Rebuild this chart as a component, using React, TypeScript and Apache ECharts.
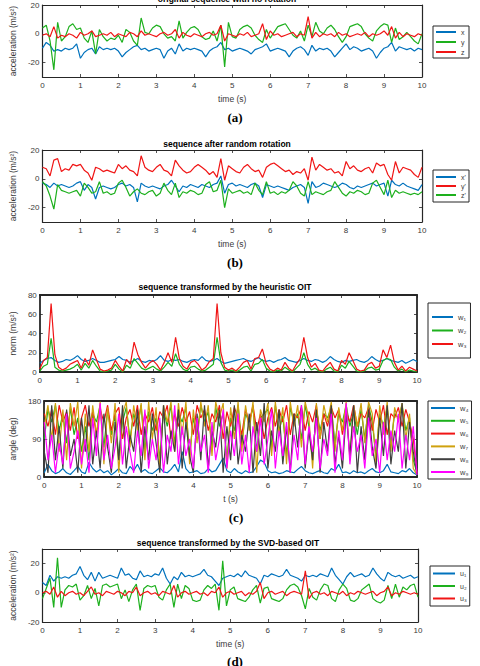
import React, { useEffect, useRef } from 'react';
import * as echarts from 'echarts';

const TIME = [
  0, 0.1, 0.2, 0.3, 0.4, 0.5, 0.6, 0.7, 0.8, 0.9,
  1, 1.1, 1.2, 1.3, 1.4, 1.5, 1.6, 1.7, 1.8, 1.9,
  2, 2.1, 2.2, 2.3, 2.4, 2.5, 2.6, 2.7, 2.8, 2.9,
  3, 3.1, 3.2, 3.3, 3.4, 3.5, 3.6, 3.7, 3.8, 3.9,
  4, 4.1, 4.2, 4.3, 4.4, 4.5, 4.6, 4.7, 4.8, 4.9,
  5, 5.1, 5.2, 5.3, 5.4, 5.5, 5.6, 5.7, 5.8, 5.9,
  6, 6.1, 6.2, 6.3, 6.4, 6.5, 6.6, 6.7, 6.8, 6.9,
  7, 7.1, 7.2, 7.3, 7.4, 7.5, 7.6, 7.7, 7.8, 7.9,
  8, 8.1, 8.2, 8.3, 8.4, 8.5, 8.6, 8.7, 8.8, 8.9,
  9, 9.1, 9.2, 9.3, 9.4, 9.5, 9.6, 9.7, 9.8, 9.9,
  10,
];

// (a) original sequence
const A_X = [
  -10, -6, -8, -12, -11, -12, -10, -11, -10, -7,
  -17, -13, -11, -10, -14, -9, -11, -10, -11, -10,
  -12, -16, -13, -11, -9, -8, -11, -10, -12, -11,
  -10, -11, -17, -12, -10, -14, -7, -12, -10, -11,
  -10, -11, -12, -16, -12, -10, -9, -6, -11, -10,
  -12, -11, -10, -11, -12, -14, -11, -10, -9, -7,
  -12, -11, -10, -11, -12, -16, -12, -10, -9, -11,
  -15, -8, -12, -10, -11, -10, -12, -16, -13, -10,
  -7, -11, -9, -10, -12, -11, -10, -12, -17, -13,
  -10, -9, -6, -12, -9, -10, -11, -10, -12, -10,
  -11,
];
const A_Y = [
  4, 6, -5, -25, 8, -5, -2, 5, 7, 3,
  4, -3, -6, 2, -14, 3, -2, -5, -3, -4,
  -1, -6, 3, 1, -5, -8, 11, 1, 0, 4,
  6, 5, 0, -3, -2, -5, 9, -3, 1, 4,
  5, 3, -2, -4, -3, 2, -5, 6, -23, 8,
  -2, -3, 3, 5, 6, 4, -1, -4, -6, 3,
  -3, 1, 5, 6, 7, 3, -1, -3, 2, -5,
  6, -2, 8, 2, 0, 4, 6, 3, -2, -6,
  -2, 5, 6, 7, 5, 0, -3, -5, 2, 5,
  7, 6, -6, 4, -4, -2, 1, -2, -5, -7,
  0,
];
const A_Z = [
  -1, 0, -2, 5, -3, -1, -2, 0, -1, -3,
  1, -1, 0, 2, -2, -1, 0, -1, 1, -2,
  0, -1, -2, 1, 0, -2, 2, -1, 0, -1,
  -2, 0, 1, -1, 0, 3, -3, 1, -1, -2,
  0, -1, -2, 0, 1, -1, 0, 6, -5, 0,
  -1, -2, 0, -1, 1, -2, -1, 0, 7, -4,
  2, -1, 0, -2, -1, 0, 1, -2, 0, -1,
  12, -3, 1, -2, 0, -1, 0, -2, 1, -1,
  0, -2, -1, 0, -1, 1, -2, 0, -1, 0,
  2, -1, 5, -3, 1, -2, 0, -1, -2, 0,
  -1,
];

// (b) after random rotation
const B_X = [
  -3, -4, -6, -3, -5, -4, -5, -6, -5, -3,
  -2, -8, -4, -6, -14, -6, -5, -6, -7, -6,
  -4, -3, -5, -4, -6, -16, -3, -5, -6, -5,
  -6, -7, -5, -4, -1, -5, -9, -5, -6, -4,
  -5, -6, -4, -5, -6, -4, -3, 2, -10, -4,
  -3, -5, -4, -5, -6, -4, -3, -5, -13, -4,
  -5, -6, -5, -6, -7, -8, -6, -5, -4, -6,
  -17, -2, -6, -5, -3, -4, -5, -6, -5, -3,
  -4, -6, -7, -5, -6, -5, -4, -3, -5, -4,
  -3, -12, -1, -4, -5, -3, -5, -6, -7, -8,
  -4,
];
const B_Y = [
  8, 7, 2, 13, 14, 5, 7, 6, 10, 9,
  10, 6, 4, -1, 8, 7, 5, 6, 5, 4,
  10, 7, 9, 6, 5, 2, 16, 8, 6, 5,
  8, 10, 6, 5, 2, 13, 9, 6, 4, 5,
  8, 10, 8, 6, 3, 5, 1, 14, -1, 9,
  7, 5, 4, 8, 10, 7, 5, 6, 1, 8,
  10, 11, 9, 7, 5, 6, 3, 5, 4, 7,
  -1, 15, 6, 10, 8, 6, 7, 4, 5, 2,
  12, 7, 9, 6, 5, 7, 8, 4, 11, 9,
  10, 3, -1, 12, 4, 8, 7, 6, 3, 1,
  8,
];
const B_Z = [
  -2, -5, -12, -21, -4, -8, -9, -10, -9, -8,
  -12, -3, -6, -10, -9, -2, -10, -9, -11, -10,
  -3, -1, -6, -12, -9, -7, -10, -11, -9, -8,
  -12, -10, -3, -8, -11, -3, -13, -9, -10, -8,
  -9, -11, -10, -4, -2, -9, -8, -1, -20, -7,
  -10, -9, -8, -10, -9, -11, -3, -8, -11, -2,
  -10, -9, -11, -9, -10, -8, -2, -5, -10, -12,
  -2, -11, -9, -10, -11, -9, -8, -2, -6, -10,
  -12, -9, -10, -8, -9, -11, -10, -3, -1, -6,
  -11, -1, -13, -8, -10, -9, -10, -11, -10, -11,
  -9,
];

// (c) heuristic OIT: norms
const C_W1 = [
  9, 12, 14, 15, 12, 10, 11, 13, 12, 14,
  17, 13, 11, 12, 14, 12, 10, 10, 11, 12,
  13, 16, 13, 12, 10, 12, 14, 11, 10, 12,
  11, 13, 17, 12, 11, 13, 12, 13, 11, 10,
  12, 13, 12, 16, 12, 11, 12, 14, 11, 9,
  10, 11, 12, 13, 14, 12, 11, 13, 15, 12,
  11, 12, 10, 12, 13, 15, 12, 11, 10, 12,
  14, 12, 11, 13, 12, 10, 12, 16, 13, 11,
  10, 12, 11, 12, 13, 11, 10, 12, 16, 13,
  11, 12, 14, 12, 11, 10, 12, 9, 11, 13,
  11,
];
const C_W2 = [
  1, 6, 8, 35, 5, 2, 1, 2, 3, 5,
  8, 2, 9, 4, 12, 6, 1, 0, 1, 2,
  8, 3, 0, 7, 4, 14, 9, 4, 2, 4,
  6, 3, 1, 5, 10, 6, 19, 8, 3, 1,
  5, 6, 3, 1, 2, 5, 8, 36, 10, 2,
  1, 2, 0, 2, 5, 6, 1, 8, 9, 13,
  4, 1, 0, 2, 1, 5, 2, 0, 4, 8,
  20, 8, 2, 4, 1, 0, 3, 5, 1, 0,
  7, 4, 11, 6, 1, 0, 1, 4, 5, 2,
  3, 12, 14, 13, 5, 1, 3, 0, 2, 1,
  0,
];
const C_W3 = [
  3, 12, 15, 71, 18, 5, 2, 4, 8, 10,
  12, 4, 14, 7, 23, 13, 3, 1, 2, 4,
  12, 6, 1, 13, 8, 31, 18, 10, 4, 9,
  12, 8, 2, 10, 20, 10, 36, 14, 6, 3,
  10, 12, 8, 2, 5, 11, 14, 71, 20, 5,
  2, 4, 1, 5, 10, 12, 3, 14, 15, 24,
  9, 3, 1, 4, 2, 10, 4, 1, 8, 14,
  36, 15, 5, 9, 2, 1, 6, 10, 3, 1,
  12, 8, 20, 12, 3, 1, 2, 8, 10, 4,
  6, 23, 15, 28, 10, 2, 6, 1, 5, 3,
  1,
];

// (c) heuristic OIT: angles
const C_W4 = [
  10, 30, 15, 8, 12, 20, 10, 6, 15, 25,
  12, 8, 35, 20, 12, 18, 10, 15, 5, 12,
  20, 10, 8, 25, 15, 30, 12, 18, 10, 8,
  15, 22, 12, 10, 18, 30, 12, 60, 20, 10,
  12, 15, 8, 10, 20, 12, 15, 30, 45, 15,
  10, 20, 12, 8, 15, 10, 12, 25, 40, 35,
  15, 10, 12, 8, 10, 15, 12, 10, 18, 25,
  15, 10, 8, 12, 15, 10, 8, 20, 15, 30,
  10, 12, 8, 15, 10, 12, 8, 15, 20, 12,
  10, 15, 30, 12, 10, 8, 15, 12, 20, 10,
  5,
];
const C_W5 = [
  90, 160, 130, 170, 110, 150, 80, 165, 100, 140,
  60, 120, 40, 150, 130, 170, 70, 160, 100, 145,
  50, 130, 165, 90, 150, 120, 170, 60, 155, 110,
  140, 40, 160, 120, 170, 80, 150, 130, 165, 50,
  140, 100, 170, 130, 155, 70, 165, 120, 150, 40,
  140, 110, 170, 80, 150, 130, 165, 60, 140, 150,
  160, 70, 170, 110, 145, 50, 165, 130, 150, 90,
  170, 120, 40, 160, 110, 150, 140, 165, 80, 150,
  130, 170, 120, 155, 100, 160, 90, 170, 130, 50,
  150, 120, 165, 80, 150, 140, 170, 110, 140, 40,
  10,
];
const C_W6 = [
  150, 120, 160, 100, 170, 130, 155, 110, 165, 90,
  140, 170, 120, 155, 100, 160, 130, 170, 110, 150,
  165, 90, 140, 160, 120, 170, 100, 150, 130, 165,
  110, 155, 140, 170, 90, 150, 120, 165, 130, 155,
  100, 170, 140, 160, 110, 150, 130, 170, 90, 155,
  120, 165, 140, 100, 160, 130, 170, 110, 150, 90,
  140, 165, 120, 160, 130, 170, 100, 150, 140, 165,
  110, 155, 130, 170, 90, 150, 120, 165, 140, 160,
  100, 155, 130, 170, 120, 150, 140, 165, 110, 160,
  130, 170, 100, 150, 140, 165, 120, 160, 130, 90,
  10,
];
const C_W7 = [
  120, 170, 90, 175, 60, 160, 40, 175, 120, 178,
  20, 150, 60, 170, 100, 178, 30, 165, 80, 175,
  10, 150, 178, 70, 170, 110, 175, 40, 178, 90,
  165, 20, 170, 130, 178, 60, 175, 100, 178, 30,
  160, 80, 178, 120, 170, 50, 178, 140, 175, 20,
  165, 90, 178, 60, 170, 110, 178, 10, 160, 130,
  175, 50, 178, 100, 165, 30, 178, 120, 170, 70,
  178, 140, 20, 175, 90, 170, 130, 178, 60, 165,
  110, 178, 40, 170, 120, 175, 80, 178, 150, 30,
  170, 100, 178, 60, 165, 130, 175, 90, 150, 20,
  5,
];
const C_W8 = [
  60, 10, 170, 40, 120, 20, 160, 50, 90, 10,
  140, 60, 170, 30, 110, 20, 150, 70, 10, 130,
  40, 170, 20, 100, 60, 160, 10, 120, 40, 150,
  80, 10, 170, 30, 110, 60, 160, 20, 130, 50,
  10, 150, 40, 170, 20, 110, 70, 160, 10, 120,
  40, 170, 30, 100, 60, 150, 10, 130, 50, 175,
  20, 110, 60, 160, 30, 120, 10, 150, 70, 170,
  20, 110, 40, 160, 10, 130, 60, 170, 30, 100,
  20, 150, 50, 170, 10, 120, 40, 160, 70, 20,
  140, 50, 170, 30, 110, 60, 175, 20, 130, 60,
  5,
];
const C_W9 = [
  130, 40, 100, 10, 80, 30, 150, 20, 60, 110,
  30, 90, 10, 140, 50, 175, 40, 100, 20, 70,
  150, 30, 120, 60, 10, 110, 50, 160, 20, 90,
  40, 140, 10, 100, 60, 170, 30, 120, 50, 90,
  20, 140, 60, 100, 10, 130, 40, 90, 160, 20,
  110, 50, 150, 30, 100, 10, 120, 60, 140, 30,
  90, 160, 20, 110, 50, 130, 10, 100, 40, 170,
  30, 120, 60, 140, 20, 90, 50, 150, 10, 110,
  40, 175, 30, 120, 60, 100, 20, 140, 50, 90,
  10, 130, 40, 110, 60, 150, 20, 100, 40, 120,
  5,
];

// (d) SVD-based OIT
const D_U1 = [
  7, 5, 12, 8, 11, 10, 11, 10, 12, 13,
  18, 12, 9, 14, 8, 14, 10, 11, 12, 11,
  10, 17, 12, 13, 10, 9, 15, 11, 12, 11,
  13, 12, 17, 10, 6, 11, 9, 14, 11, 12,
  11, 12, 13, 16, 12, 11, 8, 5, 10, 11,
  12, 11, 13, 11, 15, 12, 11, 10, 6, 12,
  11, 13, 12, 11, 12, 16, 12, 11, 10, 8,
  12, 11, 12, 11, 13, 12, 11, 17, 12, 9,
  6, 11, 14, 11, 12, 13, 11, 12, 17, 13,
  10, 8, 14, 12, 11, 12, 10, 11, 12, 10,
  11,
];
const D_U2 = [
  -4, 3, 10, -10, 24, -10, 2, 5, 4, 6,
  -5, -2, 5, -4, 3, -9, 5, 6, 4, 5,
  6, -4, 2, -6, 2, 6, -12, 3, 5, 4,
  5, -3, -5, 2, 6, -10, 6, -4, 5, 3,
  -5, -6, -5, 2, 5, 3, 6, -12, 22, -9,
  2, 4, -4, -5, -6, -3, 2, 5, -7, 3,
  4, -4, -5, -6, -4, 2, 5, 6, 4, -2,
  -11, 3, -3, -5, 2, 6, 5, -4, -6, 2,
  6, 3, -5, -6, -4, 2, 4, 6, -4, -6,
  -7, -5, 5, -4, 6, -3, 4, 2, 5, 6,
  -3,
];
const D_U3 = [
  0, 1, -1, 4, -3, 1, -2, 0, 1, -1,
  0, -2, 1, 4, -1, 0, -2, 1, 0, -1,
  1, 0, -2, 1, 0, 4, -2, 0, 1, -1,
  0, -2, 1, 0, -1, 5, -3, 0, 1, -1,
  0, 1, -1, 0, -2, 1, 0, 4, -3, 0,
  1, -1, 0, 1, -2, 0, -1, 1, 7, -4,
  0, 1, -1, 0, 1, -2, 0, 1, 0, -1,
  15, -4, 0, 1, -1, 0, -2, 1, 0, -1,
  1, -2, 0, -1, 1, 0, -1, 0, 1, -2,
  0, 1, 4, -2, 0, -1, 1, 0, -1, 0,
  -1,
];

const TITLES = [
  'original sequence with no rotation',
  'sequence after random rotation',
  'sequence transformed by the heuristic OIT',
  'sequence transformed by the SVD-based OIT',
];
const PANEL_LABELS = ['(a)', '(b)', '(c)', '(d)'];

const BLUE = '#0072BD';
const GREEN = '#1DB01D';
const RED = '#F01515';
const GOLD = '#CFA10E';
const DARK = '#3F3F3F';
const MAGENTA = '#FF00FF';
const AXIS = '#262626';
const LABEL = '#3a3a3a';
const FONT = '"Liberation Sans", Arial, Helvetica, sans-serif';

type Panel = {
  grid: { left: number; top: number; width: number; height: number };
  yMin: number; yMax: number; yInt: number; yTicks: number[];
  yName: string; yNameGap: number; xName: string; border: number;
  series: [string, number[], string][];
  legend: { left: number; top: number; padding: number[]; gap: number; lh: number; tw: number; iw: number; fs: number };
};

const PANELS: Panel[] = [
  {
    grid: { left: 32, top: 5, width: 390, height: 72 },
    yMin: -30, yMax: 20, yInt: 10, yTicks: [-20, 0, 20],
    yName: 'acceleration (m/s²)', yNameGap: 15, xName: 'time (s)', border: 1.2,
    series: [['x', A_X, BLUE], ['y', A_Y, GREEN], ['z', A_Z, RED]],
    legend: { left: 433, top: 26, padding: [2, 3, 2, 3], gap: 2, lh: 8, tw: 5, iw: 20, fs: 7 },
  },
  {
    grid: { left: 32, top: 150, width: 390, height: 72 },
    yMin: -30, yMax: 20, yInt: 10, yTicks: [-20, 0, 20],
    yName: 'acceleration (m/s²)', yNameGap: 15, xName: 'time (s)', border: 1.2,
    series: [["x'", B_X, BLUE], ["y'", B_Y, RED], ["z'", B_Z, GREEN]],
    legend: { left: 433, top: 170, padding: [3, 3, 3, 3], gap: 1, lh: 8, tw: 5, iw: 20, fs: 7 },
  },
  {
    grid: { left: 32, top: 295, width: 385, height: 77 },
    yMin: 0, yMax: 80, yInt: 20, yTicks: [0, 20, 40, 60, 80],
    yName: 'norm (m/s²)', yNameGap: 14, xName: '', border: 1.8,
    series: [['w₁', C_W1, BLUE], ['w₂', C_W2, GREEN], ['w₃', C_W3, RED]],
    legend: { left: 428, top: 303, padding: [9, 4, 9, 4], gap: 3.5, lh: 10, tw: 8, iw: 21, fs: 7.5 },
  },
  {
    grid: { left: 32, top: 401, width: 385, height: 76 },
    yMin: 0, yMax: 180, yInt: 90, yTicks: [0, 90, 180],
    yName: 'angle (deg)', yNameGap: 18, xName: 't (s)', border: 1.8,
    series: [['w₄', C_W4, BLUE], ['w₅', C_W5, GREEN], ['w₆', C_W6, RED], ['w₇', C_W7, GOLD], ['w₈', C_W8, DARK], ['w₉', C_W9, MAGENTA]],
    legend: { left: 428, top: 401, padding: [2, 3, 2, 3], gap: 2.8, lh: 10, tw: 7, iw: 24, fs: 7.5 },
  },
  {
    grid: { left: 32, top: 549, width: 386, height: 73 },
    yMin: -20, yMax: 30, yInt: 10, yTicks: [-20, 0, 20],
    yName: 'acceleration (m/s²)', yNameGap: 15, xName: 'time (s)', border: 1.2,
    series: [['u₁', D_U1, BLUE], ['u₂', D_U2, GREEN], ['u₃', D_U3, RED]],
    legend: { left: 430, top: 566, padding: [3, 3, 3, 3], gap: 3.5, lh: 9, tw: 5, iw: 22, fs: 7 },
  },
];

const TITLE_POS = [[227, -1], [227, 144], [225, 287], [228, 543]];
const LABEL_POS = [[235, 117], [235, 262], [236, 517], [235, 661]];

export default function App() {
  const ref = useRef<HTMLDivElement>(null);
  useEffect(() => {
    if (!ref.current) return;
    const chart = echarts.init(ref.current, null, { renderer: 'svg' });
    const grid: any[] = [];
    const xAxis: any[] = [];
    const yAxis: any[] = [];
    const series: any[] = [];
    const legend: any[] = [];
    PANELS.forEach((p, i) => {
      grid.push({ ...p.grid, show: false });
      const axisLine = { show: true, onZero: false, lineStyle: { color: AXIS, width: p.border } };
      const tick = { show: true, inside: true, length: 3, lineStyle: { color: AXIS, width: 0.8 } };
      const xBase = { gridIndex: i, type: 'value', min: 0, max: 10, interval: 1, axisLine, splitLine: { show: false } };
      xAxis.push({
        ...xBase, position: 'bottom', axisTick: tick,
        axisLabel: { fontSize: 8, color: LABEL, margin: 4, fontFamily: FONT },
        name: p.xName, nameLocation: 'middle', nameGap: 17,
        nameTextStyle: { fontSize: 8.5, color: LABEL, fontFamily: FONT },
      });
      xAxis.push({ ...xBase, position: 'top', axisTick: tick, axisLabel: { show: false } });
      const yBase = { gridIndex: i, type: 'value', min: p.yMin, max: p.yMax, interval: p.yInt, axisLine, splitLine: { show: false } };
      yAxis.push({
        ...yBase, position: 'left',
        axisTick: { ...tick, customValues: p.yTicks },
        axisLabel: { customValues: p.yTicks, fontSize: 8, color: LABEL, margin: 3, fontFamily: FONT },
        name: p.yName, nameLocation: 'middle', nameGap: p.yNameGap, nameRotate: 90,
        nameTextStyle: { fontSize: 8.5, color: LABEL, fontFamily: FONT },
      });
      yAxis.push({
        ...yBase, position: 'right',
        axisTick: { ...tick, customValues: p.yTicks },
        axisLabel: { show: false },
      });
      p.series.forEach(([name, values, color]) => {
        series.push({
          type: 'line', name, xAxisIndex: 2 * i, yAxisIndex: 2 * i,
          data: TIME.map((t, k) => [t, values[k]]),
          showSymbol: false, symbol: 'none', clip: true,
          lineStyle: { width: 1.2, color }, itemStyle: { color },
        });
      });
      const L = p.legend;
      legend.push({
        show: true, orient: 'vertical', left: L.left, top: L.top,
        data: p.series.map((s) => s[0]),
        icon: 'rect', itemWidth: L.iw, itemHeight: 2, itemGap: L.gap,
        padding: L.padding, borderColor: AXIS, borderWidth: 1, backgroundColor: '#fff',
        selectedMode: false,
        textStyle: { fontSize: L.fs, color: LABEL, fontFamily: FONT, lineHeight: L.lh, width: L.tw, overflow: 'none' },
      });
    });
    const graphic: any[] = [];
    TITLES.forEach((t, i) => {
      graphic.push({
        type: 'text', x: TITLE_POS[i][0], y: TITLE_POS[i][1], silent: true,
        style: { text: t, fontSize: 8.5, fontWeight: 'bold', fontFamily: FONT, fill: '#000', textAlign: 'center', textVerticalAlign: 'middle', verticalAlign: 'middle' },
      });
    });
    PANEL_LABELS.forEach((t, i) => {
      graphic.push({
        type: 'text', x: LABEL_POS[i][0], y: LABEL_POS[i][1], silent: true,
        style: { text: t, fontSize: 13, fontWeight: 'bold', fontFamily: '"Liberation Serif", "Times New Roman", serif', fill: '#000', textAlign: 'center', textVerticalAlign: 'middle', verticalAlign: 'middle' },
      });
    });
    chart.setOption({
      animation: false,
      backgroundColor: '#fff',
      grid, xAxis, yAxis, series, legend, graphic,
    });
    return () => chart.dispose();
  }, []);
  return (
    <div
      ref={ref}
      style={{ position: 'absolute', left: 0, top: 0, width: 480, height: 666, background: '#fff' }}
    />
  );
}
